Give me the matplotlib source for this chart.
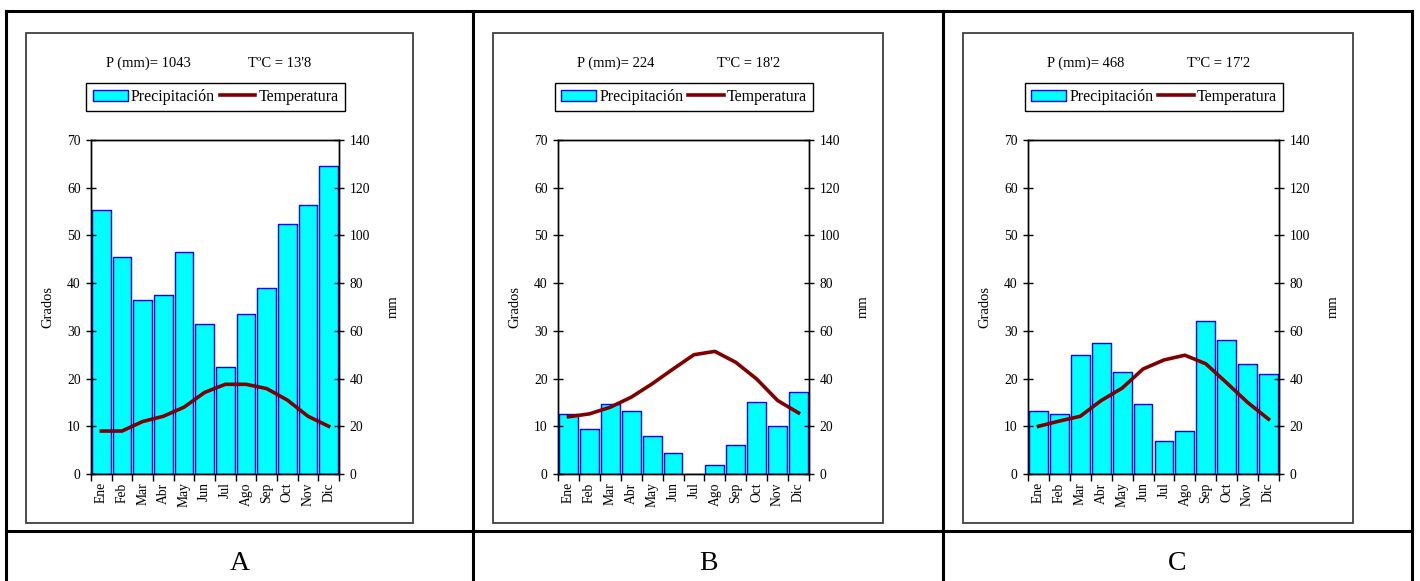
import numpy as np
import matplotlib
matplotlib.use("Agg")
import matplotlib.pyplot as plt
from matplotlib.lines import Line2D
from matplotlib.patches import Rectangle, Patch

plt.rcParams['font.family'] = ['Liberation Serif', 'DejaVu Serif']

meses = ['Ene', 'Feb', 'Mar', 'Abr', 'May', 'Jun', 'Jul', 'Ago', 'Sep', 'Oct', 'Nov', 'Dic']

# precipitacion (mm) y temperatura (grados) de cada estacion
prec_a = [110.6, 91, 73, 75, 93, 63, 45, 67, 78, 104.6, 112.7, 129]
temp_a = [9, 9, 11, 12.1, 14, 17.1, 18.8, 18.8, 17.9, 15.5, 12.1, 10]
prec_b = [25.2, 19, 29.2, 26.2, 16.1, 9, 0, 3.9, 12, 30.2, 20.1, 34.3]
temp_b = [12, 12.6, 14, 16.1, 18.9, 22, 25, 25.7, 23.4, 19.9, 15.4, 12.8]
prec_c = [26.2, 25.2, 49.8, 55, 42.8, 29.2, 14, 18, 64, 56, 45.9, 41.8]
temp_c = [10, 11.1, 12.1, 15.4, 18, 22, 23.9, 24.9, 23.1, 19.1, 15, 11.5]

titulos_p = ['P (mm)= 1043', 'P (mm)= 224', 'P (mm)= 468']
titulos_t = ["TºC = 13'8", "TºC = 18'2", "TºC = 17'2"]
letras = ['A', 'B', 'C']

W, H = 1420, 581
fig = plt.figure(figsize=(W / 100, H / 100), dpi=100)


def fx(px):
    return px / W


def fy(py):
    return 1 - py / H


# tabla exterior
lw_t = 2.2
for x in [6, 473, 943, 1412]:
    fig.add_artist(Line2D([fx(x), fx(x)], [fy(11), fy(581)], color='black', lw=lw_t))
for y in [11, 531]:
    fig.add_artist(Line2D([fx(6), fx(1412)], [fy(y), fy(y)], color='black', lw=lw_t))

cajas = [(26, 413), (493, 883), (963, 1353)]
ejes_x = [(91, 339), (558, 809), (1028, 1279)]
celdas = [(6, 473), (473, 943), (943, 1412)]

datos = [(prec_a, temp_a), (prec_b, temp_b), (prec_c, temp_c)]

x = np.arange(len(meses))
for i in range(3):
    prec, temp = datos[i]
    b0, b1 = cajas[i]
    fig.add_artist(Rectangle((fx(b0), fy(523)), fx(b1 - b0), (523 - 33) / H,
                             fill=False, edgecolor='#404040', lw=1.3))

    l, r = ejes_x[i]
    ax = fig.add_axes([fx(l), fy(474), fx(r - l), (474 - 140) / H])
    ax2 = ax.twinx()

    ax2.bar(x, prec, width=0.9, color='#00FFFF', edgecolor='#0000FF', lw=1)
    ax.plot(x, temp, color='#800000', lw=2.6)
    ax.set_zorder(ax2.get_zorder() + 1)
    ax.patch.set_visible(False)

    ax.set_xlim(-0.5, 11.5)
    ax.set_ylim(0, 70)
    ax2.set_ylim(0, 140)
    ax.set_yticks(range(0, 71, 10))
    ax2.set_yticks(range(0, 141, 20))
    ax.set_xticks(x)
    ax.set_xticklabels(meses, rotation=90, fontsize=9.8)
    ax.set_xticks(np.arange(-0.5, 12, 1), minor=True)
    ax.tick_params(axis='x', which='major', length=0, pad=6)
    ax.tick_params(axis='x', which='minor', direction='out', length=5, width=1)
    ax.tick_params(axis='y', direction='inout', length=7, width=1, labelsize=9.8, pad=4)
    ax2.tick_params(axis='y', direction='inout', length=7, width=1, labelsize=9.8, pad=4)
    for a in (ax, ax2):
        for s in a.spines.values():
            s.set_linewidth(1)
    ax.set_ylabel('Grados', fontsize=10.5, labelpad=9)
    ax2.set_ylabel('mm', fontsize=10.5, labelpad=12)

    ax.text(0.23, 1.23, titulos_p[i], transform=ax.transAxes, ha='center', va='center', fontsize=10.5)
    ax.text(0.76, 1.23, titulos_t[i], transform=ax.transAxes, ha='center', va='center', fontsize=10.5)

    handles = [Patch(facecolor='#00FFFF', edgecolor='#0000FF', lw=1),
               Line2D([], [], color='#800000', lw=2.6)]
    leg = ax.legend(handles, ['Precipitación', 'Temperatura'], ncol=2,
                    loc='center', bbox_to_anchor=(0.502, 1.129), fontsize=11.5,
                    frameon=True, fancybox=False, edgecolor='black', framealpha=1,
                    handlelength=2.2, handletextpad=0.2, columnspacing=0.3,
                    borderpad=0.4, borderaxespad=0)
    leg.get_frame().set_linewidth(1)

    c0, c1 = celdas[i]
    fig.text(fx((c0 + c1) / 2), fy(564), letras[i], ha='center', va='center', fontsize=20)

fig.savefig('out.png', dpi=100, facecolor='white')
